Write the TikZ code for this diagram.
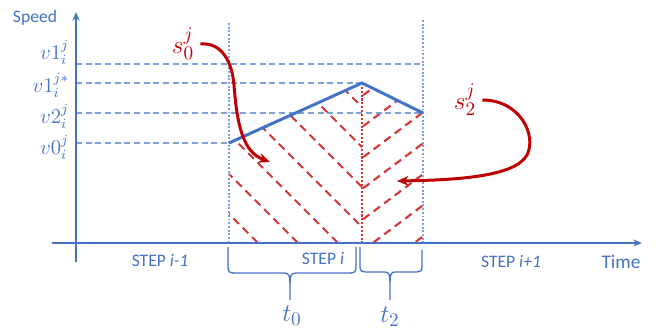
\documentclass[tikz,border=0pt]{standalone}
\usepackage{fontspec}
\newfontfamily\calibri{Carlito}
\usetikzlibrary{arrows.meta}
\definecolor{axisblue}{HTML}{4472C4}
\definecolor{gridblue}{HTML}{7FA2DC}
\definecolor{darkred}{HTML}{C00000}
\definecolor{hatchred}{HTML}{D63333}
\tikzset{
  axis/.style={axisblue, line width=0.85pt},
  gridline/.style={gridblue, line width=0.85pt, dash pattern=on 3.5pt off 2pt},
  bound/.style={gridblue, line width=1.1pt, densely dotted},
  hatch/.style={hatchred, line width=1.2pt, dash pattern=on 4.5pt off 3pt},
  speedline/.style={axisblue, line width=1.7pt},
  bracepath/.style={axisblue, line width=0.75pt},
  redarrow/.style={darkred, line width=1.7pt, -{Stealth[length=6.5pt,width=5.5pt]}},
  txt/.style={axisblue, font=\calibri\fontsize{10}{12}\selectfont},
  vlab/.style={axisblue, anchor=east, inner sep=1pt, font=\fontsize{11.5}{13}\selectfont},
  slab/.style={darkred, font=\fontsize{15}{17}\selectfont},
  tlab/.style={axisblue, font=\fontsize{15}{17}\selectfont}
}
\begin{document}
\begin{tikzpicture}[x=0.02cm, y=-0.02cm]
    \useasboundingbox (0,0) rectangle (662,329);
    \coordinate (start) at (229,143);
    \coordinate (peak) at (362,83);
    \coordinate (finish) at (423,113);
    % hatched areas
    \begin{scope}
        \clip (start) -- (peak) -- (362,243) -- (229,243) -- cycle;
        \foreach \c in {15,55,...,255}
            \draw[hatch] (\c+60,60) -- (\c+250,250);
    \end{scope}
    \begin{scope}
        \clip (peak) -- (finish) -- (423,243) -- (362,243) -- cycle;
        \foreach \k in {96,127,...,282}
            \draw[hatch] (342,\k+15) -- (442,\k-60);
    \end{scope}
    \draw[hatchred, line width=1.2pt, densely dotted] (peak) -- (362,243);
    % step bounds and levels
    \draw[bound] (229,23) -- (229,243);
    \draw[bound] (423,20) -- (423,243);
    \draw[gridline] (76,64) -- (423,64);
    \draw[gridline] (76,83) -- (peak);
    \draw[gridline] (76,113) -- (finish);
    \draw[gridline] (76,143) -- (start);
    \draw[speedline] (start) -- (peak) -- (finish);
    % axes
    \draw[axis, -{Stealth[length=5pt,width=4pt]}] (76,262) -- (76,12);
    \draw[axis, -{Stealth[length=5pt,width=4pt]}] (52,243) -- (642,243);
    \node[txt] (speed) at (35,18) {Speed};
    \node[txt, font=\calibri\fontsize{11}{13}\selectfont] (time) at (621,262) {Time};
    \node[vlab] (v1) at (71,52) {$v1_i^j$};
    \node[vlab] (v1s) at (71,85) {$v1_i^{j*}$};
    \node[vlab] (v2) at (71,116) {$v2_i^j$};
    \node[vlab] (v0) at (71,147) {$v0_i^j$};
    % steps
    \node[txt] (stepA) at (160,261) {STEP {\itshape i-1}};
    \node[txt] (stepB) at (323,259) {STEP {\itshape i}};
    \node[txt] (stepC) at (511,262) {STEP {\itshape i+1}};
    % braces
    \draw[bracepath] (228,247) -- (228,267) .. controls (228,272) and (230,273) .. (234,273)
        -- (284,273) .. controls (289,273) and (290,276) .. (290,283) -- (290,300);
    \draw[bracepath] (290,283) .. controls (290,276) and (291,273) .. (296,273)
        -- (350,273) .. controls (354,273) and (356,272) .. (356,267) -- (356,247);
    \draw[bracepath] (360,247) -- (360,267) .. controls (360,271) and (362,272) .. (365,272)
        -- (385,272) .. controls (389,272) and (390,275) .. (390,282) -- (390,300);
    \draw[bracepath] (390,282) .. controls (390,275) and (391,272) .. (395,272)
        -- (417,272) .. controls (420,272) and (422,271) .. (422,267) -- (422,250);
    \node[tlab] (t0) at (292,316) {$t_0$};
    \node[tlab] (t2) at (390,317) {$t_2$};
    % areas
    \node[slab] (s0) at (183,44) {$s_0^j$};
    \node[slab] (s2) at (465,100) {$s_2^j$};
    \coordinate (s0tip) at (270,162);
    \coordinate (s2tip) at (397,181);
    \draw[redarrow] (s0.east) .. controls (222,42) and (232,62) .. (234,85)
        .. controls (237,125) and (243,152) .. (s0tip);
    \draw[redarrow] (s2.east) .. controls (520,100) and (537,135) .. (527,155)
        .. controls (515,177) and (455,180) .. (s2tip);
\end{tikzpicture}
\end{document}
